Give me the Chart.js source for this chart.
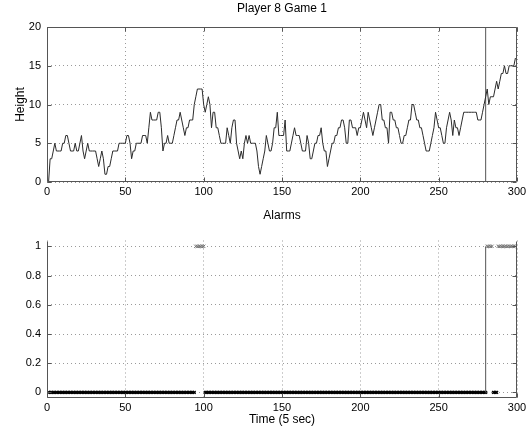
<!DOCTYPE html>
<html>
<head>
<meta charset="utf-8">
<script src="https://cdn.jsdelivr.net/npm/chart.js@4.4.0/dist/chart.umd.min.js"></script>
<style>
  html, body { margin: 0; padding: 0; background: #fff; }
  #wrap { position: relative; width: 531px; height: 431px; }
  canvas { position: absolute; left: 0; }
  #heightChart { top: 0; }
  #alarmChart { top: 200px; }
</style>
</head>
<body>
<div id="wrap">
  <canvas id="heightChart" width="531" height="200"></canvas>
  <canvas id="alarmChart" width="531" height="231"></canvas>
</div>
<script>
// height per time step (t = 1..299)
const heights = [
  0, 3, 3, 4, 5, 4, 4, 4, 4, 5,
  5, 6, 6, 5, 4, 4, 4, 5, 4, 4,
  5, 6, 4, 3, 4, 5, 4, 4, 4, 4,
  4, 3, 2, 3, 4, 3, 1, 1, 2, 2,
  3, 4, 4, 4, 4, 5, 5, 5, 5, 5,
  6, 6, 5, 3, 4, 4, 5, 5, 5, 5,
  6, 6, 6, 5, 7, 9, 8, 8, 8, 8,
  9, 9, 7, 4, 5, 5, 6, 5, 5, 5,
  6, 7, 8, 8, 9, 8, 7, 6, 7, 7,
  8, 8, 8, 10, 11, 12, 12, 12, 12, 10,
  9, 10, 11, 10, 7, 9, 9, 7, 7, 6,
  5, 5, 5, 5, 7, 6, 5, 7, 8, 8,
  5, 4, 3, 4, 3, 5, 6, 5, 6, 5,
  5, 5, 5, 4, 2, 1, 2, 3, 4, 6,
  5, 4, 4, 5, 7, 7, 9, 6, 6, 6,
  6, 8, 4, 4, 4, 5, 6, 7, 6, 6,
  6, 5, 4, 4, 4, 6, 5, 3, 3, 4,
  5, 5, 6, 6, 7, 5, 4, 4, 2, 3,
  4, 5, 5, 6, 6, 7, 7, 8, 8, 7,
  5, 5, 8, 8, 7, 7, 7, 6, 7, 7,
  8, 9, 8, 7, 9, 8, 7, 6, 7, 8,
  9, 10, 10, 8, 8, 7, 7, 5, 9, 9,
  8, 8, 7, 7, 6, 5, 5, 6, 6, 7,
  8, 8, 10, 10, 9, 8, 8, 7, 7, 6,
  5, 4, 4, 4, 5, 6, 7, 9, 8, 7,
  7, 6, 5, 5, 7, 8, 9, 8, 6, 8,
  7, 7, 6, 7, 8, 9, 9, 9, 9, 9,
  9, 9, 9, 9, 8, 8, 8, 9, 10, 11,
  12, 10, 11, 11, 11, 12, 13, 12, 13, 14,
  14, 15, 14, 14, 15, 15, 15, 15, 16
];

// alarm flag per time step (t = 1..299)
const alarms = [
  0,0,0,0,0,0,0,0,0,0, 0,0,0,0,0,0,0,0,0,0, 0,0,0,0,0,0,0,0,0,0, 0,0,0,0,0,0,0,0,0,0, 0,0,0,0,0,0,0,0,0,0,
  0,0,0,0,0,0,0,0,0,0, 0,0,0,0,0,0,0,0,0,0, 0,0,0,0,0,0,0,0,0,0, 0,0,0,0,0,0,0,0,0,0, 0,0,0,0,1,1,1,1,1,1,
  0,0,0,0,0,0,0,0,0,0, 0,0,0,0,0,0,0,0,0,0, 0,0,0,0,0,0,0,0,0,0, 0,0,0,0,0,0,0,0,0,0, 0,0,0,0,0,0,0,0,0,0,
  0,0,0,0,0,0,0,0,0,0, 0,0,0,0,0,0,0,0,0,0, 0,0,0,0,0,0,0,0,0,0, 0,0,0,0,0,0,0,0,0,0, 0,0,0,0,0,0,0,0,0,0,
  0,0,0,0,0,0,0,0,0,0, 0,0,0,0,0,0,0,0,0,0, 0,0,0,0,0,0,0,0,0,0, 0,0,0,0,0,0,0,0,0,0, 0,0,0,0,0,0,0,0,0,0,
  0,0,0,0,0,0,0,0,0,0, 0,0,0,0,0,0,0,0,0,0, 0,0,0,0,0,0,0,0,0,0, 1,1,1,1,0,0,0,1,1,1, 1,1,1,1,1,1,1,1,1
];

const firstStep = 1;       // time of the first sample
const changePoint = 280;   // marked change time
const timeTicks = [0, 50, 100, 150, 200, 250, 300];
const heightTicks = [0, 5, 10, 15, 20];
const alarmTicks = [0, 0.2, 0.4, 0.6, 0.8, 1];

const fontFamily = "'Liberation Sans', Arial, Helvetica, sans-serif";
Chart.defaults.font.family = fontFamily;
Chart.defaults.color = "#000";

const heightPoints = heights.map((h, i) => ({ x: firstStep + i, y: h }));
const alarmPoints = alarms.map((a, i) => ({ x: firstStep + i, y: a }));

// draws a box (or open box) round the plot with matlab-like inward ticks
const framePlugin = {
  id: "frame",
  afterDatasetsDraw(chart, args, opts) {
    const { ctx, chartArea: a, scales } = chart;
    const L = Math.round(a.left) + 0.5;
    const R = Math.round(a.right) - 0.5;
    const T = Math.round(a.top) + 0.5;
    const B = Math.round(a.bottom) - 0.5;
    ctx.save();
    ctx.strokeStyle = "#555";
    ctx.lineWidth = 1;
    ctx.beginPath();
    ctx.moveTo(L, T);
    ctx.lineTo(L, B);
    ctx.lineTo(R, B);
    ctx.lineTo(R, T);
    if (opts.top) ctx.lineTo(L, T);
    // ticks
    scales.x.ticks.forEach((t) => {
      const px = Math.round(scales.x.getPixelForValue(t.value)) + 0.5;
      ctx.moveTo(px, B);
      ctx.lineTo(px, B - 4);
      if (opts.top) {
        ctx.moveTo(px, T);
        ctx.lineTo(px, T + 4);
      }
    });
    scales.y.ticks.forEach((t) => {
      const py = Math.round(scales.y.getPixelForValue(t.value)) + 0.5;
      ctx.moveTo(L, py);
      ctx.lineTo(L + 4, py);
      ctx.moveTo(R, py);
      ctx.lineTo(R - 4, py);
    });
    ctx.stroke();
    ctx.restore();
  },
};

// title centred over the plot area
const panelTitle = {
  id: "panelTitle",
  afterDraw(chart, args, opts) {
    const { ctx, chartArea: a } = chart;
    ctx.save();
    ctx.font = "12px " + fontFamily;
    ctx.fillStyle = "#000";
    ctx.textAlign = "center";
    ctx.textBaseline = "middle";
    ctx.fillText(opts.text, (a.left + a.right) / 2, opts.y);
    ctx.restore();
  },
};

function xScale(extra) {
  return Object.assign({
    type: "linear",
    min: timeTicks[0],
    max: timeTicks[timeTicks.length - 1],
    afterBuildTicks: (s) => { s.ticks = timeTicks.map((v) => ({ value: v })); },
    grid: { color: "#9a9a9a", drawTicks: false },
    border: { display: false, dash: [1, 3] },
    ticks: { padding: 3, font: { size: 11 }, maxRotation: 0, autoSkip: false },
  }, extra);
}

// graph 1 : height
new Chart(document.getElementById("heightChart"), {
  type: "line",
  data: {
    datasets: [
      {
        data: heightPoints,
        borderColor: "#2b2b2b",
        borderWidth: 1,
        pointRadius: 0,
        tension: 0,
      },
      {
        data: [
          { x: changePoint, y: heightTicks[0] },
          { x: changePoint, y: heightTicks[heightTicks.length - 1] },
        ],
        borderColor: "#555",
        borderWidth: 1,
        pointRadius: 0,
      },
    ],
  },
  options: {
    responsive: false,
    animation: false,
    layout: { padding: { top: 27, right: 14, left: 0, bottom: 0 } },
    plugins: {
      legend: { display: false },
      tooltip: { enabled: false },
      frame: { top: true },
      panelTitle: { text: "Player 8 Game 1", y: 9 },
    },
    scales: {
      x: xScale({ afterFit: (s) => { s.height = 18; } }),
      y: {
        min: heightTicks[0],
        max: heightTicks[heightTicks.length - 1],
        afterBuildTicks: (s) => { s.ticks = heightTicks.map((v) => ({ value: v })); },
        afterFit: (s) => { s.width = 47; },
        grid: { color: "#9a9a9a", drawTicks: false },
        border: { display: false, dash: [1, 3] },
        ticks: { padding: 6, font: { size: 11 } },
        title: { display: true, text: "Height", font: { size: 12 }, padding: { top: 13, bottom: 0 } },
      },
    },
  },
  plugins: [framePlugin, panelTitle],
});

// graph 2 : alarms
new Chart(document.getElementById("alarmChart"), {
  type: "scatter",
  data: {
    datasets: [
      {
        type: "line",
        data: [
          { x: changePoint, y: alarmTicks[0] },
          { x: changePoint, y: alarmTicks[alarmTicks.length - 1] },
        ],
        borderColor: "#555",
        borderWidth: 1,
        pointRadius: 0,
      },
      {
        data: alarmPoints,
        pointStyle: "crossRot",
        pointRadius: (c) => (c.raw && c.raw.y ? 2.4 : 2),
        pointBorderWidth: (c) => (c.raw && c.raw.y ? 1 : 1.3),
        pointBorderColor: (c) => (c.raw && c.raw.y ? "#777" : "#000"),
        pointBackgroundColor: "transparent",
      },
    ],
  },
  options: {
    responsive: false,
    animation: false,
    layout: { padding: { top: 40.5, right: 14, left: 0, bottom: 0 } },
    plugins: {
      legend: { display: false },
      tooltip: { enabled: false },
      frame: { top: false },
      panelTitle: { text: "Alarms", y: 15.5 },
    },
    scales: {
      x: xScale({
        afterFit: (s) => { s.height = 32.7; },
        title: { display: true, text: "Time (5 sec)", font: { size: 12 }, padding: { top: 0, bottom: 4 } },
      }),
      y: {
        min: -0.04,
        max: 1.04,
        afterBuildTicks: (s) => { s.ticks = alarmTicks.map((v) => ({ value: v })); },
        afterFit: (s) => { s.width = 47; },
        grid: { color: "#9a9a9a", drawTicks: false },
        border: { display: false, dash: [1, 3] },
        ticks: { padding: 6, font: { size: 11 }, callback: (v) => String(Math.round(v * 10) / 10) },
      },
    },
  },
  plugins: [framePlugin, panelTitle],
});
</script>
</body>
</html>
